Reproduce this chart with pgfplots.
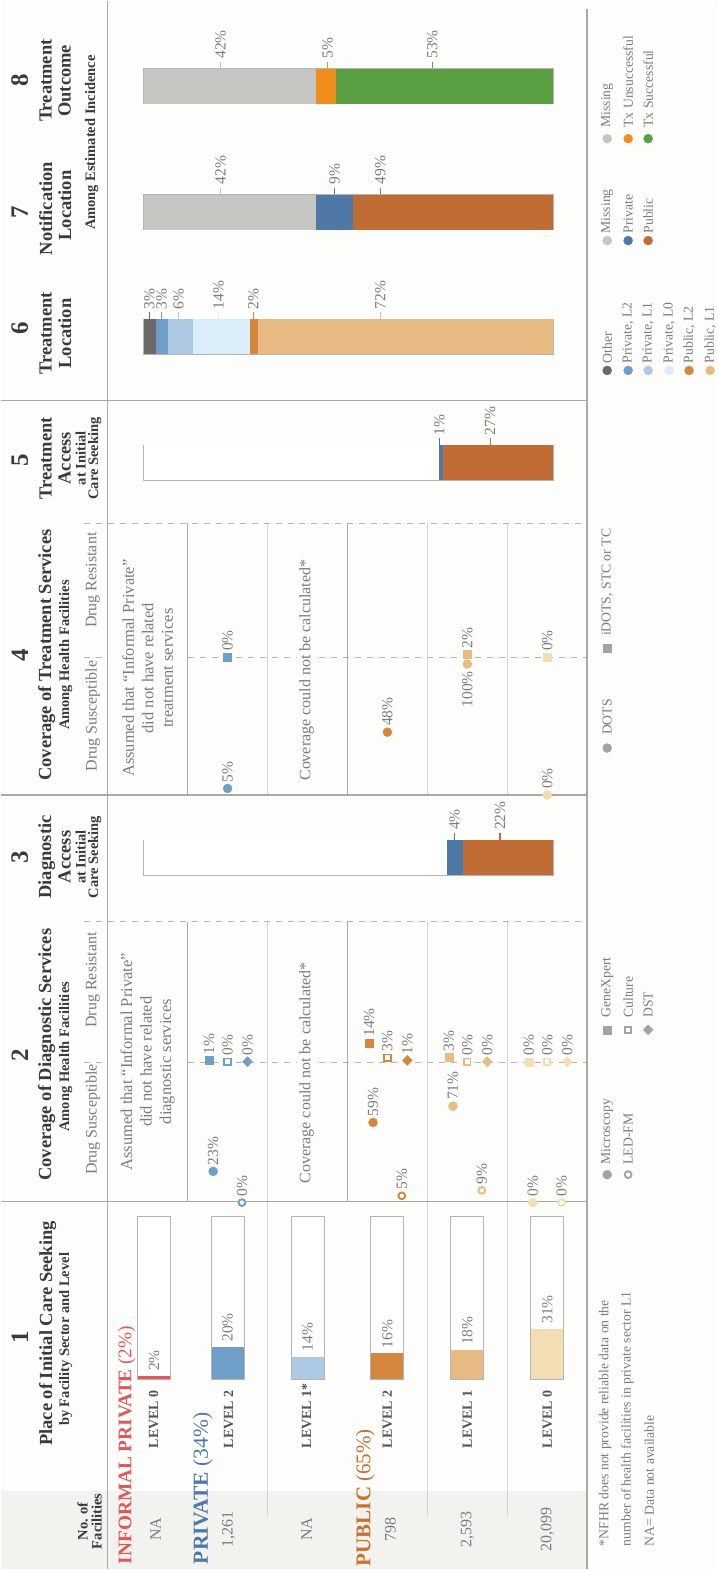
\documentclass[border=0pt]{standalone}
\usepackage{pgfplots}
\pgfplotsset{compat=1.18}
\usepackage{fontspec}
\setmainfont{Liberation Serif}
\newcommand\fs[1]{\fontsize{#1}{#1}\selectfont}
\definecolor{cBg}{HTML}{FDFDFB}
\definecolor{cStrip}{HTML}{F2F2EF}
\definecolor{cMaj}{HTML}{A8A8A8}
\definecolor{cMin}{HTML}{D4D4D4}
\definecolor{cDash}{HTML}{B4B4B4}
\definecolor{cHd}{HTML}{3A3A3A}
\definecolor{cLab}{HTML}{7C7C7C}
\definecolor{cLv}{HTML}{555555}
\definecolor{cBox}{HTML}{B4B4B4}
\definecolor{cInf}{HTML}{E15759}
\definecolor{cBlueT}{HTML}{4E79A7}
\definecolor{cOrT}{HTML}{C8702E}
\definecolor{cPrivA}{HTML}{6F9FC8}
\definecolor{cPrivB}{HTML}{AEC9E4}
\definecolor{cPrivC}{HTML}{DBEDF9}
\definecolor{cPubA}{HTML}{D5863D}
\definecolor{cPubB}{HTML}{E9BB84}
\definecolor{cPubC}{HTML}{F3DEB4}
\definecolor{cOther}{HTML}{6A6A6A}
\definecolor{cMiss}{HTML}{C5C5C2}
\definecolor{cPriv}{HTML}{4E79A7}
\definecolor{cPub}{HTML}{BF6C35}
\definecolor{cUns}{HTML}{EF8E1C}
\definecolor{cSuc}{HTML}{5A9F41}
\definecolor{cLeg}{HTML}{A3A3A3}
\tikzset{
 rt/.style={rotate=90, inner sep=0pt},
 num/.style={rt, text=cHd, font=\bfseries\fs{25}},
 hd/.style={rt, text=cHd, font=\bfseries\fs{18.5}},
 hs/.style={rt, text=cHd, font=\bfseries\fs{14.5}},
 lb/.style={rt, anchor=west, text=cLab, font=\fs{15.5}},
 lg/.style={rt, anchor=west, text=cLab, font=\fs{13.7}},
 lv/.style={rt, anchor=west, text=cLv, font=\bfseries\fs{14}},
 fc/.style={rt, text=cLab, font=\fs{16}},
}
\pgfplotsset{
 canvas/.style={scale only axis, hide axis, clip=false},
 colcls/.style={scatter, only marks, scatter src=explicit symbolic,
   scatter/classes={a={draw=cPrivA,fill=cPrivA}, b={draw=cPubA,fill=cPubA}, c={draw=cPubB,fill=cPubB}, d={draw=cPubC,fill=cPubC}}},
 opencls/.style={scatter, only marks, scatter src=explicit symbolic, mark options={line width=1.9pt},
   scatter/classes={a={draw=cPrivA,fill=cBg}, b={draw=cPubA,fill=cBg}, c={draw=cPubB,fill=cBg}, d={draw=cPubC,fill=cBg}}},
 fcirc/.style={colcls, mark=*, mark size=4.5pt},
 ocirc/.style={opencls, mark=*, mark size=3.4pt},
 fsq/.style={colcls, mark=square*, mark size=4pt},
 osq/.style={opencls, mark=square*, mark size=3.2pt},
 fdia/.style={colcls, mark=diamond*, mark size=5pt, mark options={xscale=1.3}},
 dax/.style={scale only axis, hide axis, anchor=south west, width=480pt, xmin=-0.5, xmax=5.5, ymin=0, clip mode=individual},
 sbar/.style={scale only axis, hide axis, anchor=north west, width=410pt, height=35pt, xmin=0, xmax=100, ymin=-0.5, ymax=0.5, clip=false, xbar stacked, bar width=35pt},
 cb/.style={ybar, bar shift=0pt, bar width=33pt, draw=none},
}
\newcommand\slab[3]{%
  \draw[#2, line width=1.3pt] (axis cs:#1,0.5) -- ++(0pt,7pt);
  \path (axis cs:#1,0.5) ++(0pt,10pt) node[lb] {#3};}
\newcommand\mlab[3]{\path (axis cs:#1,#2) ++(0pt,6pt) node[lb] {#3};}

\begin{document}
\begin{tikzpicture}
\fill[cBg] (0pt,0pt) rectangle (717pt,-1570pt);
% ================= canvas (pixel coordinates) =================
\begin{axis}[canvas, at={(0pt,0pt)}, anchor=north west, width=717pt, height=1570pt,
  xmin=0, xmax=717, ymin=0, ymax=1570, y dir=reverse]
\fill[cStrip] (0,1492) rectangle (587,1570);
\draw[cMin, line width=1.2pt] (267,523)--(267,795) (267,922)--(267,1518)
  (427,523)--(427,795) (427,922)--(427,1518) (507,523)--(507,795) (507,922)--(507,1518);
\draw[cDash, line width=1.2pt, dash pattern=on 6pt off 6pt]
  (83,523)--(587,523) (83,922)--(587,922) (83,657)--(107,657) (187,657)--(587,657)
  (83,1063)--(107,1063) (187,1063)--(587,1063);
\draw[cMaj, line width=1.6pt] (107,0)--(107,1570) (587,8)--(587,1570)
  (0,400)--(587,400) (0,795)--(587,795) (0,1202)--(587,1202)
  (187,523)--(187,795) (187,922)--(187,1202) (347,523)--(347,795) (347,922)--(347,1202);
% legend keys
\addplot[scatter, only marks, mark=*, mark size=4.5pt, scatter src=explicit symbolic,
  scatter/classes={gy={draw=cMiss,fill=cMiss}, un={draw=cUns,fill=cUns}, su={draw=cSuc,fill=cSuc},
   pr={draw=cPriv,fill=cPriv}, pu={draw=cPub,fill=cPub}, ot={draw=cOther,fill=cOther},
   pa={draw=cPrivA,fill=cPrivA}, pb={draw=cPrivB,fill=cPrivB}, pc={draw=cPrivC,fill=cPrivC},
   qa={draw=cPubA,fill=cPubA}, qb={draw=cPubB,fill=cPubB}, lg={draw=cLeg,fill=cLeg}}]
 coordinates {(607,138)[gy] (628,138)[un] (648,138)[su] (607,240)[gy] (628,240)[pr] (648,240)[pu]
  (607,370)[ot] (628,370)[pa] (648,370)[pb] (669,370)[pc] (689,370)[qa] (710,370)[qb]
  (607,748)[lg] (607,1175)[lg]};
\addplot[only marks, mark=square*, mark size=4pt, draw=cLeg, fill=cLeg] coordinates {(607,648) (607,1030)};
\addplot[only marks, mark=*, mark size=3.4pt, mark options={draw=cLeg, fill=cBg, line width=1.9pt}] coordinates {(628,1175)};
\addplot[only marks, mark=square*, mark size=3.2pt, mark options={draw=cLeg, fill=cBg, line width=1.9pt}] coordinates {(628,1030)};
\addplot[only marks, mark=diamond*, mark size=5pt, mark options={draw=cLeg, fill=cLeg, xscale=1.3}] coordinates {(648,1030)};
% headers
\node[num] at (19,1338) {1};
\node[hd] at (47,1334) {Place of Initial Care Seeking};
\node[hs] at (65,1340) {by Facility Sector and Level};
\node[hs, align=center, font=\bfseries\fontsize{14.5}{14}\selectfont] at (89,1522) {No. of\\Facilities};
\node[num] at (19,1055) {2};
\node[hd] at (46,1055) {Coverage of Diagnostic Services};
\node[hs] at (65,1057) {Among Health Facilities};
\node[fc] at (92,1120) {Drug Susceptible};
\node[fc] at (92,980) {Drug Resistant};
\node[num] at (19,857) {3};
\node[hd] at (46,857) {Diagnostic};
\node[hd] at (64,857) {Access};
\node[hs] at (80,857) {at Initial};
\node[hs] at (94,857) {Care Seeking};
\node[num] at (19,655) {4};
\node[hd] at (46,655) {Coverage of Treatment Services};
\node[hs] at (65,655) {Among Health Facilities};
\node[fc] at (92,716) {Drug Susceptible};
\node[fc] at (92,580) {Drug Resistant};
\node[num] at (19,460) {5};
\node[hd] at (45,458) {Treatment};
\node[hd] at (64,458) {Access};
\node[hs] at (80,458) {at Initial};
\node[hs] at (94,458) {Care Seeking};
\node[num] at (19,328) {6};
\node[hd] at (45,333) {Treatment};
\node[hd] at (64,333) {Location};
\node[num] at (19,212) {7};
\node[hd] at (45,208) {Notification};
\node[hd] at (64,205) {Location};
\node[num] at (19,80) {8};
\node[hd] at (45,80) {Treatment};
\node[hd] at (64,80) {Outcome};
\node[hs] at (91,142) {Among Estimated Incidence};
% row headers
\node[rt, anchor=west, text=cInf, font=\fs{19.3}] at (126,1565) {\textbf{INFORMAL PRIVATE} (2\%)};
\node[rt, anchor=west, text=cBlueT, font=\fs{21.5}] at (202,1565) {\textbf{PRIVATE} (34\%)};
\node[rt, anchor=west, text=cOrT, font=\fs{21}] at (365,1567) {\textbf{PUBLIC} (65\%)};
\node[lv] at (153,1449) {LEVEL 0};
\node[lv] at (228,1449) {LEVEL 2};
\node[lv] at (306,1449) {LEVEL 1*};
\node[lv] at (387,1449) {LEVEL 2};
\node[lv] at (467,1449) {LEVEL 1};
\node[lv] at (547,1449) {LEVEL 0};
\node[fc] at (155,1530) {NA};
\node[fc] at (228,1530) {1,261};
\node[fc] at (306,1530) {NA};
\node[fc] at (390,1530) {798};
\node[fc] at (467,1530) {2,593};
\node[fc] at (547,1530) {20,099};
\node[rt, align=center, text=cLab, font=\fontsize{16.5}{19.5}\selectfont] at (147,1062)
  {Assumed that “Informal Private”\\did not have related\\diagnostic services};
\node[rt, align=center, text=cLab, font=\fontsize{16.5}{19.5}\selectfont] at (147,668)
  {Assumed that “Informal Private”\\did not have related\\treatment services};
\node[rt, text=cLab, font=\fs{16}, fill=cBg, inner sep=2pt] at (306,1073) {Coverage could not be calculated*};
\node[rt, text=cLab, font=\fs{16}, fill=cBg, inner sep=2pt] at (306,670) {Coverage could not be calculated*};
% legend texts
\node[lg] at (607,127) {Missing};
\node[lg] at (628,127) {Tx Unsuccessful};
\node[lg] at (648,127) {Tx Successful};
\node[lg] at (607,233) {Missing};
\node[lg] at (628,233) {Private};
\node[lg] at (648,233) {Public};
\node[lg] at (607,363) {Other};
\node[lg] at (628,363) {Private, L2};
\node[lg] at (648,363) {Private, L1};
\node[lg] at (669,363) {Private, L0};
\node[lg] at (689,363) {Public, L2};
\node[lg] at (710,363) {Public, L1};
\node[lg] at (607,735) {DOTS};
\node[lg] at (607,636) {iDOTS, STC or TC};
\node[lg] at (607,1018) {GeneXpert};
\node[lg] at (628,1018) {Culture};
\node[lg] at (648,1018) {DST};
\node[lg] at (607,1165) {Microscopy};
\node[lg] at (628,1165) {LED-FM};
\node[lg] at (605,1547) {*NFHR does not provide reliable data on the};
\node[lg] at (627,1547) {number of health facilities in private sector L1};
\node[lg] at (649,1547) {NA= Data not available};
\end{axis}

% ================= 1: place of initial care seeking =================
\begin{axis}[canvas, at={(107pt,-1380pt)}, anchor=south west, width=480pt, height=163pt,
  xmin=-0.5, xmax=5.5, ymin=0, ymax=100]
\addplot[cb, fill=white] coordinates {(0.08,100) (1,100) (2,100) (3,100) (4,100) (5,100)};
\addplot[cb, fill=cInf] coordinates {(0.08,2)};
\addplot[cb, fill=cPrivA] coordinates {(1,20)};
\addplot[cb, fill=cPrivB] coordinates {(2,14)};
\addplot[cb, fill=cPubA] coordinates {(3,16)};
\addplot[cb, fill=cPubB] coordinates {(4,18)};
\addplot[cb, fill=cPubC] coordinates {(5,31)};
\addplot[ybar, bar shift=0pt, bar width=33pt, fill=none, draw=cBox, line width=0.9pt]
  coordinates {(0.08,100) (1,100) (2,100) (3,100) (4,100) (5,100)};
\path (axis cs:0.08,2) ++(0pt,5pt) node[lb] {2\%};
\path (axis cs:1,20) ++(0pt,5pt) node[lb] {20\%};
\path (axis cs:2,14) ++(0pt,5pt) node[lb] {14\%};
\path (axis cs:3,16) ++(0pt,5pt) node[lb] {16\%};
\path (axis cs:4,18) ++(0pt,5pt) node[lb] {18\%};
\path (axis cs:5,31) ++(0pt,5pt) node[lb] {31\%};
\end{axis}

% ================= 2: diagnostic coverage =================
\begin{axis}[dax, at={(107pt,-1203pt)}, height=140pt, ymax=103]
\addplot[fcirc] coordinates {(0.82,23)[a] (2.82,59)[b] (3.82,71)[c] (4.82,0)[d]};
\addplot[ocirc] coordinates {(1.18,0)[a] (3.18,5)[b] (4.18,9)[c] (5.18,0)[d]};
\mlab{0.82}{23}{23\%} \mlab{2.82}{59}{59\%} \mlab{3.82}{71}{71\%} \mlab{4.82}{0}{0\%}
\mlab{1.18}{0}{0\%} \mlab{3.18}{5}{5\%} \mlab{4.18}{9}{9\%} \mlab{5.18}{0}{0\%}
\end{axis}
\begin{axis}[dax, at={(107pt,-1062pt)}, height=140pt, ymax=103]
\addplot[fsq] coordinates {(0.77,1)[a] (2.77,14)[b] (3.77,3)[c] (4.77,0)[d]};
\addplot[osq] coordinates {(1,0)[a] (3,3)[b] (4,0)[c] (5,0)[d]};
\addplot[fdia] coordinates {(1.25,0)[a] (3.25,1)[b] (4.25,0)[c] (5.25,0)[d]};
\mlab{0.77}{1}{1\%} \mlab{2.77}{14}{14\%} \mlab{3.77}{3}{3\%} \mlab{4.77}{0}{0\%}
\mlab{1}{0}{0\%} \mlab{3}{3}{3\%} \mlab{4}{0}{0\%} \mlab{5}{0}{0\%}
\mlab{1.25}{0}{0\%} \mlab{3.25}{1}{1\%} \mlab{4.25}{0}{0\%} \mlab{5.25}{0}{0\%}
\end{axis}

% ================= 4: treatment coverage =================
\begin{axis}[dax, at={(107pt,-795pt)}, height=138pt, ymax=105.3]
\addplot[fcirc] coordinates {(1,5)[a] (3,48)[b] (4,100)[c] (5,0)[d]};
\mlab{1}{5}{5\%} \mlab{3}{48}{48\%} \mlab{5}{0}{0\%}
\path (axis cs:4,100) ++(0pt,-7pt) node[lb, anchor=east] {100\%};
\end{axis}
\begin{axis}[dax, at={(107pt,-657pt)}, height=134pt, ymax=102.3]
\addplot[fsq] coordinates {(1,0)[a] (4,2)[c] (5,0)[d]};
\mlab{1}{0}{0\%} \mlab{4}{2}{2\%} \mlab{5}{0}{0\%}
\end{axis}

% ================= 3: diagnostic access =================
\begin{axis}[sbar, at={(143pt,-840pt)}]
\addplot[fill=white, draw=none] coordinates {(74,0)};
\addplot[fill=cPriv, draw=none] coordinates {(4,0)};
\addplot[fill=cPub, draw=none] coordinates {(22,0)};
\draw[cBox, line width=0.8pt] (axis cs:0,-0.5) rectangle (axis cs:100,0.5);
\slab{75.9}{cPriv}{4\%}
\slab{87}{cPub}{22\%}
\end{axis}

% ================= 5: treatment access =================
\begin{axis}[sbar, at={(143pt,-445pt)}]
\addplot[fill=white, draw=none] coordinates {(72,0)};
\addplot[fill=cPriv, draw=none] coordinates {(1,0)};
\addplot[fill=cPub, draw=none] coordinates {(27,0)};
\draw[cBox, line width=0.8pt] (axis cs:0,-0.5) rectangle (axis cs:100,0.5);
\slab{72.2}{cPriv}{1\%}
\slab{84.6}{cPub}{27\%}
\end{axis}

% ================= 6: treatment location =================
\begin{axis}[sbar, at={(143pt,-319pt)}]
\addplot[fill=cOther, draw=none] coordinates {(3,0)};
\addplot[fill=cPrivA, draw=none] coordinates {(3,0)};
\addplot[fill=cPrivB, draw=none] coordinates {(6,0)};
\addplot[fill=cPrivC, draw=none] coordinates {(14,0)};
\addplot[fill=cPubA, draw=none] coordinates {(2,0)};
\addplot[fill=cPubB, draw=none] coordinates {(72,0)};
\draw[cBox, line width=0.8pt] (axis cs:0,-0.5) rectangle (axis cs:100,0.5);
\slab{1.4}{cOther}{3\%}
\slab{4.4}{cPrivA}{3\%}
\slab{8.5}{cPrivB}{6\%}
\slab{18.3}{cPrivC}{14\%}
\slab{26.8}{cPubA}{2\%}
\slab{57.8}{cPubB}{72\%}
\end{axis}

% ================= 7: notification location =================
\begin{axis}[sbar, at={(143pt,-194pt)}]
\addplot[fill=cMiss, draw=none] coordinates {(42,0)};
\addplot[fill=cPriv, draw=none] coordinates {(9,0)};
\addplot[fill=cPub, draw=none] coordinates {(49,0)};
\draw[cBox, line width=0.8pt] (axis cs:0,-0.5) rectangle (axis cs:100,0.5);
\slab{18.8}{cMiss}{42\%}
\slab{46.6}{cPriv}{9\%}
\slab{57.8}{cPub}{49\%}
\end{axis}

% ================= 8: treatment outcome =================
\begin{axis}[sbar, at={(143pt,-68pt)}]
\addplot[fill=cMiss, draw=none] coordinates {(42,0)};
\addplot[fill=cUns, draw=none] coordinates {(5,0)};
\addplot[fill=cSuc, draw=none] coordinates {(53,0)};
\draw[cBox, line width=0.8pt] (axis cs:0,-0.5) rectangle (axis cs:100,0.5);
\slab{18.8}{cMiss}{42\%}
\slab{44.9}{cUns}{5\%}
\slab{70.5}{cSuc}{53\%}
\end{axis}
\end{tikzpicture}
\end{document}
